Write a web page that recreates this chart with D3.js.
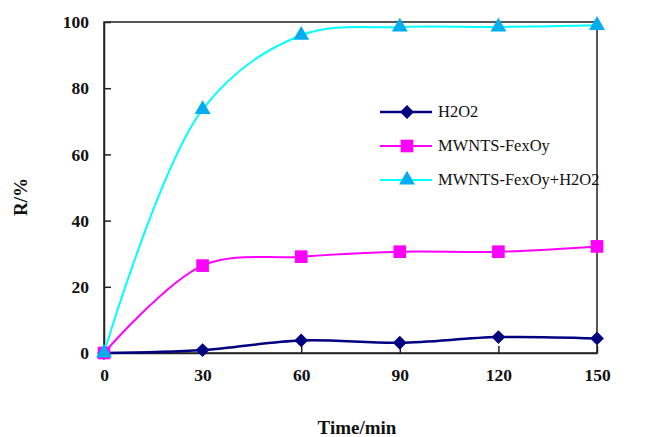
<!DOCTYPE html>
<html><head><meta charset="utf-8">
<script src="https://cdn.jsdelivr.net/npm/d3@7"></script>
<style>body{margin:0;background:#fff}svg{display:block}</style>
</head><body>
<script>
const times = [0, 30, 60, 90, 120, 150];
const h2o2 = [0, 0.9, 3.8, 3.1, 4.8, 4.4];
const mwnts = [0, 26.4, 29.1, 30.6, 30.6, 32.2];
const mwntsH2o2 = [0, 73.6, 96.0, 98.5, 98.5, 99.0];
const seriesNames = ["H2O2", "MWNTS-FexOy", "MWNTS-FexOy+H2O2"];
const xTicks = [0, 30, 60, 90, 120, 150];
const yTicks = [0, 20, 40, 60, 80, 100];

const W = 651, H = 437;
const m = {l: 104, r: 54, t: 22, b: 84};
const svg = d3.select("body").append("svg").attr("width", W).attr("height", H);
const x = d3.scaleLinear().domain([0, 150]).range([m.l, W - m.r]);
const y = d3.scaleLinear().domain([0, 100]).range([H - m.b, m.t]);
const serif = "'Liberation Serif', 'Times New Roman', serif";

svg.append("rect").attr("x", x(0)).attr("y", y(100)).attr("width", x(150) - x(0)).attr("height", y(0) - y(100))
  .attr("fill", "none").attr("stroke", "#222").attr("stroke-width", 1.5);

const yAxis = svg.append("g").attr("transform", `translate(${x(0)},0)`)
  .call(d3.axisLeft(y).tickValues(yTicks).tickSizeInner(-7).tickSizeOuter(0).tickPadding(15));
const xAxis = svg.append("g").attr("transform", `translate(0,${y(0)})`)
  .call(d3.axisBottom(x).tickValues(xTicks).tickSizeInner(-7).tickSizeOuter(0).tickPadding(16));
[xAxis, yAxis].forEach(a => {
  a.select(".domain").attr("stroke", "#222").attr("stroke-width", 1.5);
  a.selectAll(".tick line").attr("stroke", "#222").attr("stroke-width", 1.5);
  a.selectAll("text").attr("font-family", serif).attr("font-weight", "bold").attr("font-size", 17.5).attr("fill", "#111");
});

svg.append("text").attr("x", 357).attr("y", 434).attr("text-anchor", "middle")
  .attr("font-family", serif).attr("font-weight", "bold").attr("font-size", 19).attr("fill", "#111").text("Time/min");
svg.append("text").attr("transform", `translate(27,197) rotate(-90)`).attr("text-anchor", "middle")
  .attr("font-family", serif).attr("font-weight", "bold").attr("font-size", 19).attr("fill", "#111").text("R/%");

const series = [
  {name: seriesNames[0], vals: h2o2, line: "#000080", fill: "#000080", sym: d3.symbolSquare, size: 95, rot: 45, w: 2.5},
  {name: seriesNames[1], vals: mwnts, line: "#FF00FF", fill: "#FF00FF", sym: d3.symbolSquare, size: 160, rot: 0, w: 2},
  {name: seriesNames[2], vals: mwntsH2o2, line: "#00FFFF", fill: "#00AEEF", sym: d3.symbolTriangle, size: 110, rot: 0, w: 2}
];
const lineGen = d3.line().x((d, i) => x(times[i])).y(d => y(d)).curve(d3.curveCatmullRom.alpha(0.5));

series.forEach(s => {
  svg.append("path").attr("d", lineGen(s.vals)).attr("fill", "none").attr("stroke", s.line).attr("stroke-width", s.w);
});
series.forEach(s => {
  svg.append("g").selectAll("path").data(s.vals).join("path")
    .attr("transform", (d, i) => `translate(${x(times[i])},${y(d)}) rotate(${s.rot})`)
    .attr("d", d3.symbol().type(s.sym).size(s.size)).attr("fill", s.fill);
});

const legY = [112, 146, 180];
series.forEach((s, i) => {
  const g = svg.append("g").attr("transform", `translate(380,${legY[i]})`);
  g.append("line").attr("x1", 0).attr("x2", 52).attr("stroke", s.line).attr("stroke-width", s.w);
  g.append("path").attr("transform", `translate(27,0) rotate(${s.rot})`).attr("d", d3.symbol().type(s.sym).size(s.size)).attr("fill", s.fill);
  g.append("text").attr("x", 58).attr("y", 5).attr("font-family", serif).attr("font-size", 16.5).attr("fill", "#111").text(s.name);
});
</script>
</body></html>
